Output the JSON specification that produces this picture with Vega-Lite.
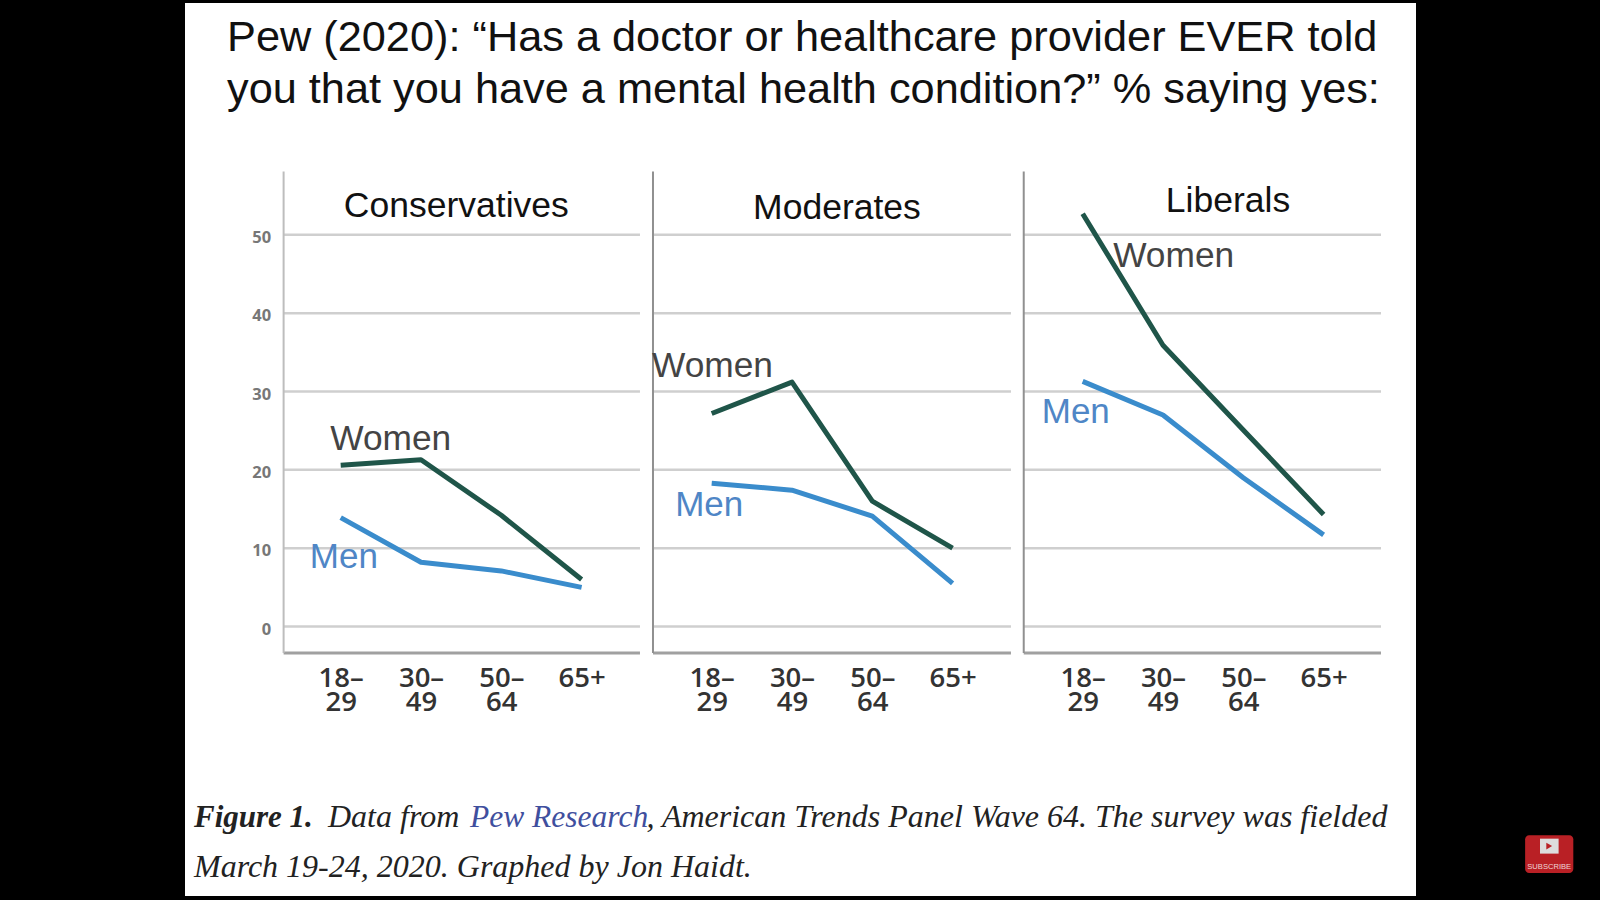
{
"$schema":"https://vega.github.io/schema/vega-lite/v6.json",
"autosize":{"type":"none"},
"width":1231,"height":893,
"padding":{"left":185,"top":3,"right":184,"bottom":4},
"background":"#000000",
"config":{"view":{"fill":"#ffffff","stroke":null}},
"title":{"text":["Pew (2020): “Has a doctor or healthcare provider EVER told","you that you have a mental health condition?” % saying yes:"],"anchor":"start","frame":"group","offset":-143,"dx":42,"baseline":"alphabetic","font":"Liberation Sans","fontSize":43.3,"fontWeight":"normal","color":"#111111","lineHeight":52},
"datasets":{
"series":[
{"panel":"Conservatives","age":"18–29","group":"Women","pos":1,"value":20.6},
{"panel":"Conservatives","age":"30–49","group":"Women","pos":2,"value":21.3},
{"panel":"Conservatives","age":"50–64","group":"Women","pos":3,"value":14.2},
{"panel":"Conservatives","age":"65+","group":"Women","pos":4,"value":6.0},
{"panel":"Conservatives","age":"18–29","group":"Men","pos":1,"value":13.9},
{"panel":"Conservatives","age":"30–49","group":"Men","pos":2,"value":8.2},
{"panel":"Conservatives","age":"50–64","group":"Men","pos":3,"value":7.1},
{"panel":"Conservatives","age":"65+","group":"Men","pos":4,"value":5.0},
{"panel":"Moderates","age":"18–29","group":"Women","pos":5.62,"value":27.2},
{"panel":"Moderates","age":"30–49","group":"Women","pos":6.62,"value":31.2},
{"panel":"Moderates","age":"50–64","group":"Women","pos":7.62,"value":16.0},
{"panel":"Moderates","age":"65+","group":"Women","pos":8.62,"value":10.0},
{"panel":"Moderates","age":"18–29","group":"Men","pos":5.62,"value":18.3},
{"panel":"Moderates","age":"30–49","group":"Men","pos":6.62,"value":17.4},
{"panel":"Moderates","age":"50–64","group":"Men","pos":7.62,"value":14.1},
{"panel":"Moderates","age":"65+","group":"Men","pos":8.62,"value":5.5},
{"panel":"Liberals","age":"18–29","group":"Women","pos":10.24,"value":52.7},
{"panel":"Liberals","age":"30–49","group":"Women","pos":11.24,"value":35.9},
{"panel":"Liberals","age":"50–64","group":"Women","pos":12.24,"value":25.1},
{"panel":"Liberals","age":"65+","group":"Women","pos":13.24,"value":14.3},
{"panel":"Liberals","age":"18–29","group":"Men","pos":10.24,"value":31.3},
{"panel":"Liberals","age":"30–49","group":"Men","pos":11.24,"value":27.0},
{"panel":"Liberals","age":"50–64","group":"Men","pos":12.24,"value":19.0},
{"panel":"Liberals","age":"65+","group":"Men","pos":13.24,"value":11.7}
],
"grid":[
{"tick":0,"start":0.289,"end":4.727},{"tick":10,"start":0.289,"end":4.727},{"tick":20,"start":0.289,"end":4.727},{"tick":30,"start":0.289,"end":4.727},{"tick":40,"start":0.289,"end":4.727},{"tick":50,"start":0.289,"end":4.727},
{"tick":0,"start":4.889,"end":9.347},{"tick":10,"start":4.889,"end":9.347},{"tick":20,"start":4.889,"end":9.347},{"tick":30,"start":4.889,"end":9.347},{"tick":40,"start":4.889,"end":9.347},{"tick":50,"start":4.889,"end":9.347},
{"tick":0,"start":9.506,"end":13.955},{"tick":10,"start":9.506,"end":13.955},{"tick":20,"start":9.506,"end":13.955},{"tick":30,"start":9.506,"end":13.955},{"tick":40,"start":9.506,"end":13.955},{"tick":50,"start":9.506,"end":13.955}
],
"panels":[
{"panel":"Conservatives","start":0.289,"end":4.727,"floor":-3.37,"top":58.1,"titleValue":52.3,"center":2.44},
{"panel":"Moderates","start":4.889,"end":9.347,"floor":-3.37,"top":58.1,"titleValue":52.0,"center":7.18},
{"panel":"Liberals","start":9.506,"end":13.955,"floor":-3.37,"top":58.1,"titleValue":52.9,"center":12.05}
],
"women":[
{"label":"Women","pos":0.87,"value":22.5},
{"label":"Women","pos":4.877,"value":31.9},
{"label":"Women","pos":10.62,"value":45.9}
],
"men":[
{"label":"Men","pos":0.615,"value":7.5},
{"label":"Men","pos":5.165,"value":14.1},
{"label":"Men","pos":9.73,"value":26.0}
],
"noteBold":[{"note":"Figure 1.","pos":-0.827,"value":-25.6}],
"note":[
{"note":"Data from","pos":0.842,"value":-25.6},
{"note":", American Trends Panel Wave 64. The survey was fielded","pos":4.808,"value":-25.6},
{"note":"March 19-24, 2020. Graphed by Jon Haidt.","pos":-0.827,"value":-32.0}
],
"noteLink":[{"note":"Pew Research","pos":2.61,"value":-25.6}],
"button":[{"x1":15.75,"x2":16.35,"y1":-26.65,"y2":-31.47}],
"buttonIcon":[{"x1":15.935,"x2":16.167,"y1":-27.08,"y2":-28.99}],
"buttonPlay":[{"pos":16.05,"value":-28.03}],
"buttonText":[{"label":"SUBSCRIBE","pos":16.05,"value":-30.99}]
},
"layer":[
{"data":{"name":"grid"},"mark":{"type":"rule","color":"#cfcfcf","strokeWidth":2.5},
"encoding":{
"x":{"field":"start","type":"quantitative","scale":{"domain":[-0.939,14.391],"nice":false,"zero":false},
"axis":{"title":null,"values":[1,2,3,4,5.62,6.62,7.62,8.62,10.24,11.24,12.24,13.24],"labelExpr":"indexof([1,5.62,10.24],datum.value)>=0?['18–','29']:indexof([2,6.62,11.24],datum.value)>=0?['30–','49']:indexof([3,7.62,12.24],datum.value)>=0?['50–','64']:['65+']","offset":-236,"domain":false,"ticks":false,"grid":false,"labelPadding":4,"labelBaseline":"top","labelAlign":"center","labelFont":"Open Sans","labelFontSize":27.5,"labelFontWeight":600,"labelColor":"#333333","labelLineHeight":24.5,"labelOverlap":false,"labelFlush":false}},
"x2":{"field":"end"},
"y":{"field":"tick","type":"quantitative","scale":{"domain":[-34.4,79.6],"nice":false,"zero":false},
"axis":{"title":null,"values":[0,10,20,30,40,50],"offset":-85.6,"domain":false,"ticks":false,"grid":false,"labelPadding":0,"labelOffset":2.5,"labelFont":"Open Sans","labelFontSize":16.5,"labelFontWeight":"bold","labelColor":"#777777","labelOverlap":false,"labelFlush":false}}
}},
{"data":{"name":"panels"},"mark":{"type":"rule","color":"#a0a0a0","strokeWidth":3},
"encoding":{"x":{"field":"start","type":"quantitative"},"x2":{"field":"end"},"y":{"field":"floor","type":"quantitative"}}},
{"data":{"name":"panels"},"transform":[{"filter":"datum.panel==='Conservatives'"}],"mark":{"type":"rule","color":"#bdbdbd","strokeWidth":2},
"encoding":{"x":{"field":"start","type":"quantitative"},"y":{"field":"floor","type":"quantitative"},"y2":{"field":"top"}}},
{"data":{"name":"panels"},"transform":[{"filter":"datum.panel!=='Conservatives'"}],"mark":{"type":"rule","color":"#909090","strokeWidth":2},
"encoding":{"x":{"field":"start","type":"quantitative"},"y":{"field":"floor","type":"quantitative"},"y2":{"field":"top"}}},
{"data":{"name":"series"},"mark":{"type":"line","strokeWidth":5,"strokeCap":"butt","strokeJoin":"round"},
"encoding":{"x":{"field":"pos","type":"quantitative"},"y":{"field":"value","type":"quantitative"},"detail":{"field":"panel"},
"color":{"field":"group","type":"nominal","legend":null,"scale":{"domain":["Women","Men"],"range":["#1f5549","#3a8ccc"]}}}},
{"data":{"name":"women"},"mark":{"type":"text","align":"left","baseline":"alphabetic","font":"Liberation Sans","fontSize":35.3,"color":"#444444"},
"encoding":{"x":{"field":"pos","type":"quantitative"},"y":{"field":"value","type":"quantitative"},"text":{"field":"label"}}},
{"data":{"name":"men"},"mark":{"type":"text","align":"left","baseline":"alphabetic","font":"Liberation Sans","fontSize":35,"color":"#4f86c6"},
"encoding":{"x":{"field":"pos","type":"quantitative"},"y":{"field":"value","type":"quantitative"},"text":{"field":"label"}}},
{"data":{"name":"panels"},"mark":{"type":"text","align":"center","baseline":"alphabetic","font":"Liberation Sans","fontSize":35.5,"color":"#111111"},
"encoding":{"x":{"field":"center","type":"quantitative"},"y":{"field":"titleValue","type":"quantitative"},"text":{"field":"panel"}}},
{"data":{"name":"noteBold"},"mark":{"type":"text","align":"left","baseline":"alphabetic","font":"Liberation Serif","fontStyle":"italic","fontWeight":"bold","fontSize":31,"color":"#222222"},
"encoding":{"x":{"field":"pos","type":"quantitative"},"y":{"field":"value","type":"quantitative"},"text":{"field":"note"}}},
{"data":{"name":"note"},"mark":{"type":"text","align":"left","baseline":"alphabetic","font":"Liberation Serif","fontStyle":"italic","fontSize":32,"color":"#222222"},
"encoding":{"x":{"field":"pos","type":"quantitative"},"y":{"field":"value","type":"quantitative"},"text":{"field":"note"}}},
{"data":{"name":"noteLink"},"mark":{"type":"text","align":"left","baseline":"alphabetic","font":"Liberation Serif","fontStyle":"italic","fontSize":31.5,"color":"#3f4f9e"},
"encoding":{"x":{"field":"pos","type":"quantitative"},"y":{"field":"value","type":"quantitative"},"text":{"field":"note"}}},
{"data":{"name":"button"},"mark":{"type":"rect","color":"#b92025","cornerRadius":4},
"encoding":{"x":{"field":"x1","type":"quantitative"},"x2":{"field":"x2"},"y":{"field":"y1","type":"quantitative"},"y2":{"field":"y2"}}},
{"data":{"name":"buttonIcon"},"mark":{"type":"rect","color":"#dddddd"},
"encoding":{"x":{"field":"x1","type":"quantitative"},"x2":{"field":"x2"},"y":{"field":"y1","type":"quantitative"},"y2":{"field":"y2"}}},
{"data":{"name":"buttonPlay"},"mark":{"type":"point","shape":"triangle-right","filled":true,"size":45,"color":"#b92025","opacity":1},
"encoding":{"x":{"field":"pos","type":"quantitative"},"y":{"field":"value","type":"quantitative"}}},
{"data":{"name":"buttonText"},"mark":{"type":"text","align":"center","baseline":"alphabetic","font":"Liberation Sans","fontSize":7.6,"color":"#eed5d5"},
"encoding":{"x":{"field":"pos","type":"quantitative"},"y":{"field":"value","type":"quantitative"},"text":{"field":"label"}}}
]
}
